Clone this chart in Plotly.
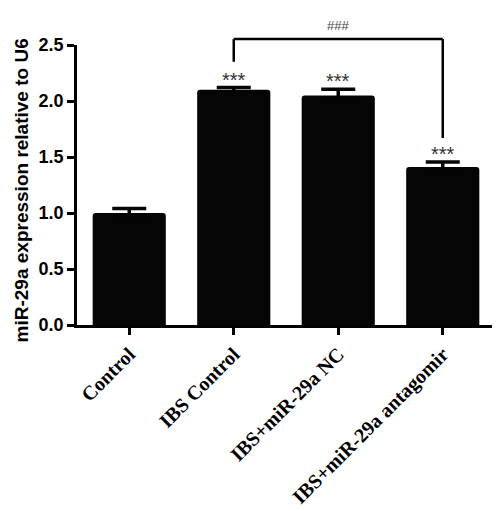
import plotly.graph_objects as go

categories = ["Control", "IBS Control", "IBS+miR-29a NC", "IBS+miR-29a antagomir"]
values = [1.00, 2.10, 2.05, 1.41]
errors = [0.04, 0.02, 0.055, 0.045]
stars = ["", "***", "***", "***"]
y_ticks = [0.0, 0.5, 1.0, 1.5, 2.0, 2.5]

x_idx = list(range(len(categories)))
n = len(categories)

fig = go.Figure()
fig.add_trace(go.Bar(
    x=x_idx, y=values, width=0.7,
    marker=dict(color="#050505", line=dict(color="#050505", width=0), cornerradius=3),
    error_y=dict(type="data", array=errors, visible=True, color="#050505",
                 thickness=3.5, width=17),
    showlegend=False,
))

# significance stars
for i, (v, e, s) in enumerate(zip(values, errors, stars)):
    if s:
        fig.add_annotation(x=i, y=v + e, text=s, showarrow=False, yanchor="middle",
                           yshift=8, font=dict(family="Liberation Sans", size=20, color="#333"))

# bracket between IBS Control and antagomir (paper coords, top lies above the y range)
def xp(i):
    return (i + 0.5) / n

def yp(v):
    return v / 2.5

top = 1.021
fig.add_shape(type="line", xref="paper", yref="paper", x0=xp(1), x1=xp(1), y0=yp(2.35), y1=top,
              line=dict(color="black", width=2.5))
fig.add_shape(type="line", xref="paper", yref="paper", x0=xp(1), x1=xp(3), y0=top, y1=top,
              line=dict(color="black", width=2.5))
fig.add_shape(type="line", xref="paper", yref="paper", x0=xp(3), x1=xp(3), y0=yp(1.67), y1=top,
              line=dict(color="black", width=2.5))
fig.add_annotation(xref="paper", yref="paper", x=xp(2), y=top, text="###", showarrow=False,
                   yanchor="middle", yshift=14,
                   font=dict(family="Liberation Sans", size=13, color="#444"))

# y-axis title
fig.add_annotation(xref="paper", yref="paper", x=-0.132, y=0.48, text="miR-29a expression relative to U6",
                   textangle=-90, showarrow=False, xanchor="center", yanchor="middle",
                   font=dict(family="Liberation Sans", size=19, color="black", weight="bold"))

fig.update_layout(
    width=492, height=503,
    margin=dict(l=69, r=5, t=37, b=186),
    paper_bgcolor="white", plot_bgcolor="white",
)
fig.update_xaxes(
    range=[-0.5, 3.5], tickvals=x_idx, ticktext=categories, automargin=False,
    tickangle=-45, ticks="outside", ticklen=7, tickwidth=2.5, tickcolor="black",
    showline=True, linecolor="black", linewidth=2.5, showgrid=False, zeroline=False,
    tickfont=dict(family="Liberation Serif", size=20, color="black", weight="bold"),
)
fig.update_yaxes(
    range=[0, 2.5], tickvals=y_ticks, ticktext=[f"{t:.1f}" for t in y_ticks], automargin=False,
    ticks="outside", ticklen=7, tickwidth=2.5, tickcolor="black",
    showline=True, linecolor="black", linewidth=2.5, showgrid=False, zeroline=False,
    tickfont=dict(family="Liberation Sans", size=18, color="black", weight="bold"),
)

fig.write_html("out.html")
